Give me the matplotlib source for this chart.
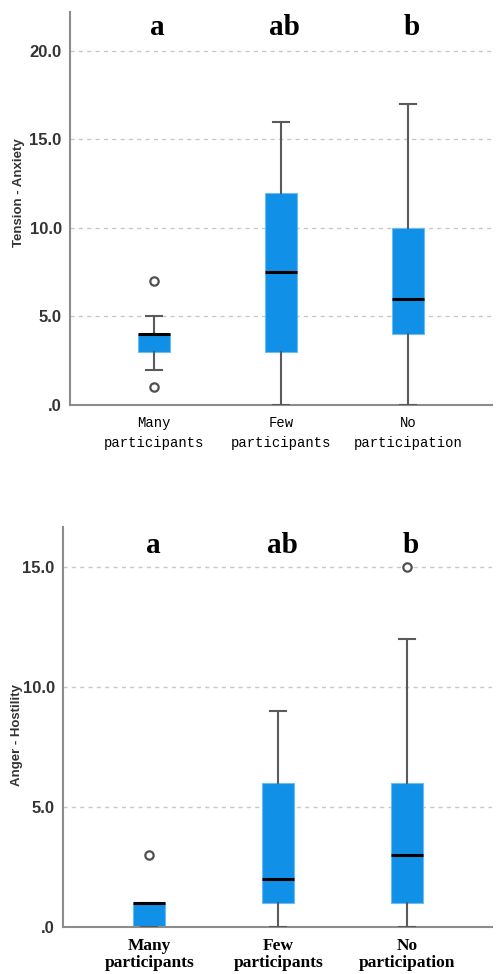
"""
POMS box plots by participation group (two stacked panels).
"""

import matplotlib
matplotlib.use("Agg")
import matplotlib.pyplot as plt

# ------------------------------------------------------------
# Data
# ------------------------------------------------------------
groups_top = ["Many\nparticipants", "Few\nparticipants", "No\nparticipation"]
groups_bottom = ["Many\nparticipants", "Few\nparticipants", "No\nparticipation"]
letters = ["a", "ab", "b"]

# Tension - Anxiety
ta_q1 = [3, 3, 4]
ta_med = [4, 7.5, 6]
ta_q3 = [4, 12, 10]
ta_lo = [2, 0, 0]
ta_hi = [5, 16, 17]
ta_fliers = [[7, 1], [], []]

# Anger - Hostility
ah_q1 = [0, 1, 1]
ah_med = [1, 2, 3]
ah_q3 = [1, 6, 6]
ah_lo = [0, 0, 0]
ah_hi = [1, 9, 12]
ah_fliers = [[3], [], [15]]

top_ticks = [0, 5, 10, 15, 20]
top_ticklabels = [".0", "5.0", "10.0", "15.0", "20.0"]
bottom_ticks = [0, 5, 10, 15]
bottom_ticklabels = [".0", "5.0", "10.0", "15.0"]

BOX_BLUE = "#1190e8"
WHISKER = "#5a5a5a"
SPINE = "#8c8c8c"


def make_stats(q1, med, q3, lo, hi, fliers):
    stats = []
    for i in range(len(q1)):
        stats.append({"q1": q1[i], "med": med[i], "q3": q3[i],
                      "whislo": lo[i], "whishi": hi[i], "fliers": fliers[i]})
    return stats


def draw_panel(ax, stats, ylim, xlim, ticks, ticklabels, groups, letter_y,
               ylabel, label_pos, xfont):
    ax.set_xlim(*xlim)
    ax.set_ylim(*ylim)

    for t in ticks[1:]:
        ax.axhline(t, color="#c8c8c8", linestyle=(0, (3, 3)), linewidth=1, zorder=0)

    ax.bxp(stats, positions=[0, 1, 2], widths=0.25, patch_artist=True,
           capwidths=0.125, showfliers=True,
           boxprops=dict(facecolor=BOX_BLUE, edgecolor="#6cbcf2", linewidth=0.8),
           medianprops=dict(color="black", linewidth=2.2, zorder=4),
           whiskerprops=dict(color=WHISKER, linewidth=1.5),
           capprops=dict(color=WHISKER, linewidth=1.5, zorder=3),
           flierprops=dict(marker="o", markersize=6, markerfacecolor="white",
                           markeredgecolor="#505050", markeredgewidth=1.6))

    for spine in ["top", "right"]:
        ax.spines[spine].set_visible(False)
    for spine in ["left", "bottom"]:
        ax.spines[spine].set_color(SPINE)
        ax.spines[spine].set_linewidth(1.5)

    ax.set_yticks(ticks)
    ax.set_yticklabels(ticklabels, fontsize=12, fontweight="bold", color="#333333",
                       family="Liberation Sans")
    ax.tick_params(axis="y", length=0, pad=6)
    ax.set_xticks([0, 1, 2])
    ax.set_xticklabels(groups, **xfont)
    ax.tick_params(axis="x", length=0, pad=8)

    for i, lt in enumerate(letters):
        ax.text(i + 0.03, letter_y, lt, ha="center", va="baseline", fontsize=21,
                fontweight="bold", family="Liberation Serif")

    ax.set_ylabel(ylabel, fontsize=9.5, fontweight="bold", color="#333333",
                  family="Liberation Sans")
    ax.yaxis.set_label_coords(*label_pos)


# ------------------------------------------------------------
# Figure
# ------------------------------------------------------------
W, H = 499, 974
fig = plt.figure(figsize=(W / 100, H / 100), dpi=100)

ax_top = fig.add_axes([70 / W, (H - 405) / H, 422 / W, 393 / H])
ax_bot = fig.add_axes([63 / W, (H - 927) / H, 429 / W, 400 / H])

draw_panel(ax_top, make_stats(ta_q1, ta_med, ta_q3, ta_lo, ta_hi, ta_fliers),
           (0, 22.2), (-0.66, 2.66), top_ticks, top_ticklabels, groups_top, 20.9,
           "Tension - Anxiety", (-0.107, 0.54),
           dict(fontsize=10, family="Liberation Mono", linespacing=1.55))

draw_panel(ax_bot, make_stats(ah_q1, ah_med, ah_q3, ah_lo, ah_hi, ah_fliers),
           (0, 16.67), (-0.67, 2.66), bottom_ticks, bottom_ticklabels, groups_bottom, 15.6,
           "Anger - Hostility", (-0.093, 0.48),
           dict(fontsize=12.5, family="Liberation Serif", fontweight="bold",
                linespacing=1.1))

fig.savefig("out.png", dpi=100)
